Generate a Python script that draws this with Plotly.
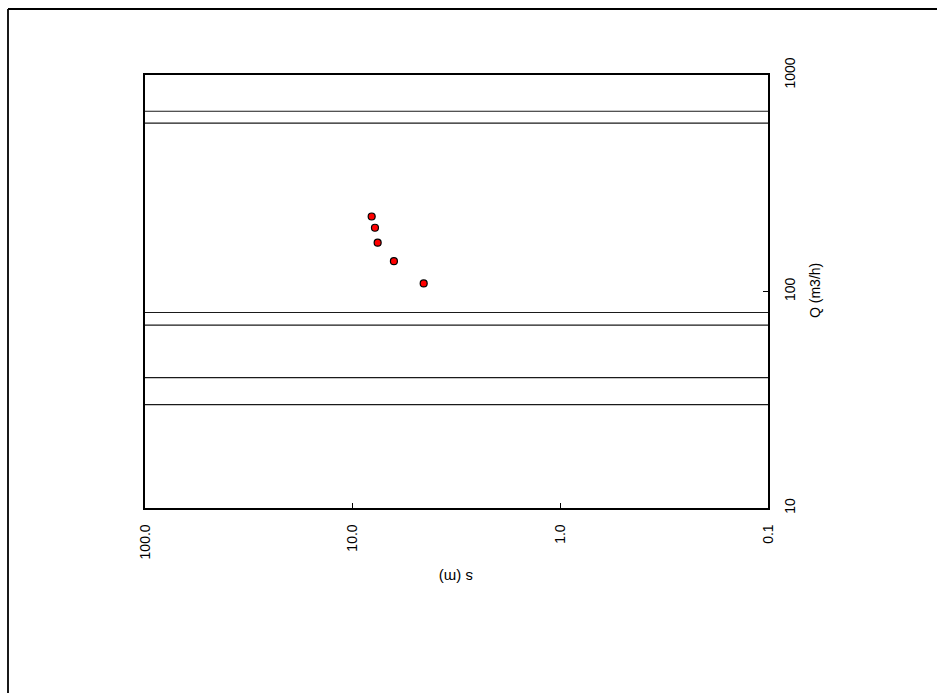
import plotly.graph_objects as go

# Pumping test: drawdown s (m) against discharge Q (m3/h)
drawdown_m = [8.10, 7.81, 7.58, 6.33, 4.55]
discharge_m3h = [222, 197, 168, 138, 109]

# Reference discharge levels drawn as horizontal lines
ref_levels_q = [680, 600, 80, 70, 40, 30]

s_tickvals = [100, 10, 1, 0.1]
s_ticktext = ["100.0", "10.0", "1.0", "0.1"]
q_tickvals = [10, 100, 1000]
q_ticktext = ["10", "100", "1000"]

FONT = "Liberation Sans, Arial, sans-serif"

fig = go.Figure()

for q in ref_levels_q:
    fig.add_trace(go.Scatter(
        x=[100, 0.1], y=[q, q], mode="lines",
        line=dict(color="#1a1a1a", width=1.2),
        hoverinfo="skip", showlegend=False,
    ))

fig.add_trace(go.Scatter(
    x=drawdown_m, y=discharge_m3h, mode="markers",
    marker=dict(size=7, color="#ff0000", line=dict(color="#000000", width=1.2)),
    showlegend=False,
))

fig.update_xaxes(
    type="log", range=[2, -1],
    tickvals=s_tickvals, ticktext=s_ticktext, tickangle=-90,
    ticks="inside", ticklen=5, tickcolor="#000", tickwidth=1,
    ticklabelstandoff=9,
    showline=True, linecolor="#000", linewidth=1.6, mirror=True,
    showgrid=False, zeroline=False,
    tickfont=dict(family=FONT, size=14, color="#000"),
)
fig.update_yaxes(
    type="log", range=[1, 3], side="right",
    tickvals=q_tickvals, ticktext=q_ticktext, tickangle=-90,
    ticks="inside", ticklen=5, tickcolor="#000", tickwidth=1,
    ticklabelstandoff=8,
    showline=True, linecolor="#000", linewidth=1.6, mirror=True,
    showgrid=False, zeroline=False,
    tickfont=dict(family=FONT, size=14, color="#000"),
)

# Axis titles
fig.add_annotation(
    text="s (m)", xref="paper", yref="paper", x=(456 - 145) / 623, y=(508 - 578) / 433,
    xanchor="center", yanchor="middle",
    textangle=180, showarrow=False, font=dict(family=FONT, size=15, color="#000"),
)
fig.add_annotation(
    text="Q (m3/h)", xref="paper", yref="paper", x=(815 - 145) / 623, y=(508 - 291) / 433,
    xanchor="center", yanchor="middle",
    textangle=-90, showarrow=False, font=dict(family=FONT, size=14, color="#000"),
)

# Outer page frame
fx0 = (8 - 145) / 623
fy0 = (508 - 9) / 433
fig.add_shape(type="line", xref="paper", yref="paper", x0=fx0, x1=1.4, y0=fy0, y1=fy0,
              line=dict(color="#000", width=1.8))
fig.add_shape(type="line", xref="paper", yref="paper", x0=fx0, x1=fx0, y0=fy0, y1=-0.5,
              line=dict(color="#000", width=1.8))

fig.update_layout(
    width=937, height=693,
    margin=dict(l=145, r=169, t=75, b=185),
    paper_bgcolor="#ffffff", plot_bgcolor="#ffffff",
    font=dict(family=FONT, size=12, color="#000"),
)

fig.write_html("out.html")
